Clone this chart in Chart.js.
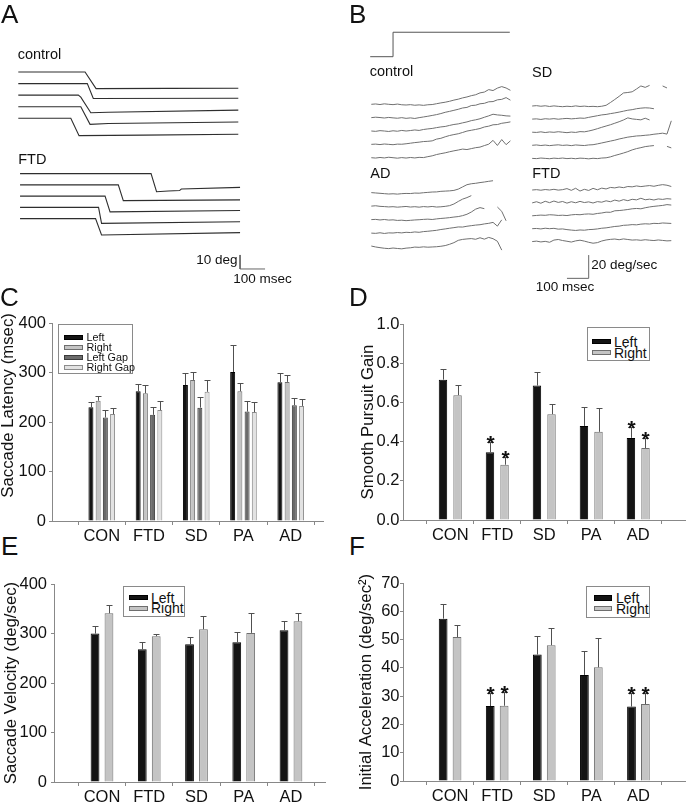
<!DOCTYPE html>
<html><head><meta charset="utf-8">
<script src="https://cdn.jsdelivr.net/npm/chart.js@4.4.1/dist/chart.umd.min.js"></script>
<style>
body{margin:0;background:#fff;}
#page{position:relative;width:686px;height:803px;overflow:hidden;font-family:'Liberation Sans',Arial,sans-serif;color:#111;background:#fff;}
canvas{position:absolute;}
.t{position:absolute;white-space:nowrap;line-height:1;}
.letter{font-size:26px;}
.lab{font-size:14.5px;}
.sb{font-size:13.5px;}
.rot{position:absolute;white-space:nowrap;line-height:1;text-align:center;transform:rotate(-90deg);transform-origin:50% 50%;}
.legend{position:absolute;border:1px solid #8a8a8a;background:#fff;box-sizing:border-box;}
.legend .tx{position:absolute;white-space:nowrap;line-height:1;}
.legend .sw{position:absolute;box-sizing:border-box;border:1px solid #555;}
</style></head><body><div id="page">
<canvas id="ca" width="343" height="300" style="left:0;top:0"></canvas>
<canvas id="cb" width="343" height="300" style="left:343px;top:0"></canvas>
<div class="t letter" style="left:1px;top:1px">A</div>
<div class="t letter" style="left:349px;top:1px">B</div>
<div class="t letter" style="left:0px;top:284px">C</div>
<div class="t letter" style="left:349px;top:284px">D</div>
<div class="t letter" style="left:1px;top:533px">E</div>
<div class="t letter" style="left:349px;top:533px">F</div>
<div class="t lab" style="left:17.7px;top:47.4px">control</div>
<div class="t lab" style="left:18.2px;top:152px">FTD</div>
<div class="t sb" style="right:448.5px;top:253.2px">10 deg</div>
<div class="t sb" style="left:233.3px;top:271.5px">100 msec</div>
<div class="t lab" style="left:369.7px;top:64px">control</div>
<div class="t lab" style="left:532px;top:64.5px">SD</div>
<div class="t lab" style="left:370.3px;top:166.3px">AD</div>
<div class="t lab" style="left:532.2px;top:166.3px">FTD</div>
<div class="t sb" style="left:591.3px;top:258.2px">20 deg/sec</div>
<div class="t sb" style="left:535.7px;top:279.7px">100 msec</div>
<div class="rot" style="font-size:16.8px;width:220px;height:16.8px;left:-102px;top:397px">Saccade Latency (msec)</div>
</div>
<script>
// ---------------- DATA ----------------
const categories = ['CON', 'FTD', 'SD', 'PA', 'AD'];

// Panel C: saccade latency (msec), mean and SE
const latLeft = [230, 262, 274.5, 301, 280.5];
const latLeftSE = [9.5, 14, 24.5, 54.5, 19.5];
const latRight = [243, 258, 285, 262, 281];
const latRightSE = [10.5, 16.5, 16, 16.5, 14];
const latLeftGap = [209, 214.5, 229, 221, 234];
const latLeftGapSE = [15, 15.5, 22.5, 20.5, 13.5];
const latRightGap = [216, 224, 261, 220, 232.5];
const latRightGapSE = [12, 18, 23.5, 19.5, 13.5];

// Panel D: smooth pursuit gain
const gainLeft = [0.716, 0.346, 0.686, 0.480, 0.419];
const gainLeftSE = [0.053, 0.051, 0.071, 0.094, 0.058];
const gainRight = [0.637, 0.282, 0.540, 0.450, 0.367];
const gainRightSE = [0.051, 0.039, 0.051, 0.119, 0.051];
const gainSig = [false, true, false, false, true];

// Panel E: saccade velocity (deg/sec)
const velLeft = [299.8, 268.2, 278.3, 282.4, 306.6];
const velLeftSE = [14.8, 14.8, 15.5, 20.1, 19.4];
const velRight = [340.8, 294.5, 308.6, 301.2, 324.7];
const velRightSE = [16.2, 5.3, 26.2, 40.3, 16.1];

// Panel F: initial acceleration (deg/sec^2)
const accLeft = [57.4, 26.5, 44.7, 37.5, 26.3];
const accLeftSE = [5.1, 4.5, 6.5, 8.6, 4.7];
const accRight = [50.9, 26.6, 48.0, 40.2, 27.2];
const accRightSE = [4.2, 4.8, 6.0, 10.4, 3.8];
const accSig = [false, true, false, false, true];

// Panel A: saccade eye-position traces, [msec, deg]
const aControl = [
  [[0,0],[267,0],[311,-11.9],[600,-11.7],[880,-11.6]],
  [[0,0],[276,0],[300,-10.7],[880,-10.5]],
  [[0,0],[240,0],[250,-1.4],[290,-12.6],[360,-12.2],[880,-10.7]],
  [[0,0],[250,0],[287,-12.6],[360,-12.0],[880,-10.9]],
  [[0,0],[210,0],[243,-12.4],[500,-12.0],[880,-11.4]]
];
const aFTD = [
  [[7,0],[531,0],[553,-12.9],[600,-12.4],[645,-12.1],[652,-11.0],[887,-9.8]],
  [[7,0],[400,0],[420,-11.2],[887,-10.7]],
  [[7,0],[347,0],[367,-11.2],[887,-10.2]],
  [[7,0],[321,0],[333,-11.4],[887,-10.2]],
  [[7,0],[309,0],[333,-11.7],[887,-10.0]]
];
const aScaleBar = [[887,-130.7],[887,-140.7],[987,-140.7]]; // 10 deg, 100 msec

// Panel B: smooth pursuit eye-velocity traces (deg/sec), sampled every 20 msec
const bTimes = [0,20,40,60,80,100,120,140,160,180,200,220,240,260,280,300,320,340,360,380,400,420,440,460,480,500,520,540,560,580,600,620,640];
const bStimTimes = [-5, 100, 100, 637];
const bStimVel = [0, 0, 21, 21];
const bControl = [
  [0,0.3,-0.2,0.4,0,-0.3,0.2,-0.4,-0.6,-0.3,-0.8,-0.5,-0.9,-0.4,-0.2,0.5,1.2,1.8,2.6,3.6,4.4,5.5,6.3,7.4,8.2,9.8,10.5,12.6,11.8,13.9,15.2,14.0,12.0],
  [0,0.4,0.1,-0.3,0.2,-0.2,-0.5,0,-0.6,-0.2,-0.7,0,0.6,1.2,1.9,2.6,3.5,4.6,5.4,6.3,7.2,8.3,8.8,10.4,10.7,11.9,12.3,13.6,13.8,15.3,15.7,17.2,15.0],
  [0,-0.3,0.3,0,-0.4,0.2,-0.2,0.5,0,0.4,0.9,0.5,1.3,1.8,2.2,2.9,3.5,3.9,4.8,5.6,6.1,7.0,7.8,8.9,9.6,10.5,11.8,13.0,14.4,13.8,13.5,13.0,12.8],
  [0,0.2,-0.2,0.3,0,-0.3,0.2,0.1,0.5,1.0,1.5,1.9,2.4,2.6,3.0,4.5,5.2,6.5,7.6,8.4,9.1,10.2,11.4,12.1,12.8,13.6,14.9,15.6,16.8,17.0,18.1,18.6,19.3],
  [0,-0.3,0.2,-0.2,0.4,0,-0.4,0.1,-0.3,0.2,-0.2,0.3,0.1,0.9,1.6,2.7,3.5,4.2,5.1,5.9,6.6,7.4,7.0,7.8,8.6,9.1,10.4,11.6,14.9,10.5,15.6,11.2,14.5]
];
const bSD = [
  [0,0.3,-0.2,0.2,-0.4,0.1,-0.3,-0.6,-0.2,-0.5,0.1,-0.4,-0.1,-0.5,-0.3,-0.6,-0.2,0.6,3.0,5.6,8.3,11.2,11.6,12.2,14.6,17.2,16.0,17.7,null,null,17.2,15.5,null],
  [0,0.2,-0.3,0.3,0,0.4,-0.1,0.3,0.6,0.2,0.5,0.9,0.7,1.5,2.2,2.9,3.6,4.0,4.7,5.3,6.0,6.8,7.6,8.1,8.9,9.4,9.7,9.5,8.9,null,null,null,null],
  [0,-0.2,0.3,-0.3,0.2,-0.1,0.4,0,-0.4,0.1,-0.2,0.5,0.3,1.0,1.9,3.0,4.2,5.3,6.4,7.7,9.0,10.5,12.3,11.4,11.0,10.6,12.0,10.5,null,null,null,null,null],
  [0,0.3,-0.2,0.2,-0.3,0.1,0.4,-0.1,0.2,-0.3,0.3,0,-0.2,0.3,0.5,1.2,2.0,2.8,3.6,4.4,5.4,6.2,7.0,7.5,8.0,8.2,8.6,8.9,9.5,9.9,10.4,9.6,21.0],
  [0,-0.2,0.3,0,-0.3,0.2,-0.1,0.3,-0.2,0.1,-0.3,0.2,0,-0.4,0.1,-0.2,0.3,0.5,1.3,2.5,3.5,4.6,5.8,7.3,8.4,9.2,10.1,10.6,11.0,null,null,10.3,9.0]
];
const bAD = [
  [0,-0.3,-0.6,-0.9,-1.2,-1.0,-1.3,-0.9,-0.7,-0.8,-0.4,-0.5,-0.1,0.2,0.5,0.6,1.1,1.3,1.5,1.9,3.0,4.9,6.8,7.6,8.0,8.6,9.1,9.7,10.2,null,null,null,null],
  [0,0.3,-0.2,-0.4,-0.7,-0.5,-0.9,-0.6,-0.3,-0.8,-0.5,-0.9,-0.4,-0.7,-0.3,-0.8,-0.6,-0.2,0.4,1.8,4.0,6.0,7.3,9.0,null,null,null,null,null,null,null,null,null],
  [0,0.2,-0.3,0.1,-0.4,-0.2,-0.7,-0.5,-0.9,-0.6,-0.3,-0.1,0.2,0.4,0.1,0.6,1.0,1.3,1.7,2.2,2.6,3.4,4.6,6.5,9.0,10.3,9.4,null,null,10.8,7.1,-1.0,null],
  [0,-0.2,0.3,-0.3,0.2,0.1,0.5,0.2,0.7,0.5,1.0,0.7,1.3,1.6,2.0,2.4,3.1,3.6,4.2,4.7,5.3,5.2,5.9,6.4,6.9,7.2,7.9,8.4,9.2,6.0,11.4,null,null],
  [0.5,-0.3,-0.9,-1.4,-1.7,-1.2,-1.6,-1.9,-1.3,-1.0,-0.4,-0.6,-0.2,-0.5,-0.3,-0.1,0.3,0.9,2.0,3.4,5.4,6.2,6.6,6.9,6.3,7.6,6.4,7.9,6.8,4.6,-3.0,null,null]
];
const bFTD = [
  [0,0.3,-0.2,0.4,0,0.6,-0.1,0.3,1.2,-0.3,1.5,-0.9,0.6,-0.4,1.4,0.2,1.6,0.9,2.2,1.8,2.6,2.0,3.0,2.7,3.5,2.9,3.4,3.8,3.2,4.0,4.6,4.1,3.0],
  [0,1.0,-0.3,1.4,0.2,1.6,0.4,1.2,-0.2,1.0,0.1,1.3,0.3,0.9,-0.1,1.1,0.6,1.8,1.0,2.4,1.5,2.8,1.9,3.1,2.6,4.0,2.7,3.2,2.5,3.4,3.0,3.6,3.3],
  [0,0.3,0.6,0.4,0.9,0.7,0.3,0.5,0.2,0.8,1.1,0.9,1.4,1.6,1.3,2.0,2.4,3.1,3.0,4.3,4.5,4.9,5.4,6.0,6.3,6.0,6.9,7.6,8.1,8.5,8.9,9.6,9.2],
  [0,0.2,-0.2,0.4,0,0.3,-0.4,-0.2,-0.8,-1.2,-1.5,-1.1,-1.3,-0.8,-0.6,-0.2,0.4,0.7,1.3,1.9,2.2,2.9,3.1,3.5,3.3,3.9,4.2,4.0,4.6,4.4,4.9,4.7,4.5],
  [0,0.4,-0.3,0.2,-0.6,1.3,1.8,0.9,0.3,-0.4,0.6,1.2,0.4,-0.6,-1.4,-0.9,0.5,1.4,1.9,2.2,1.6,2.3,1.8,1.3,1.5,1.1,1.6,1.2,0.9,1.4,1.0,0.6,0.8]
];
const bScaleBar = [[900,-148.8],[1000,-148.8],[1000,-128.8]]; // 100 msec, 20 deg/sec

// ---------------- RENDER ----------------
Chart.defaults.font.family = "'Liberation Sans', Arial, sans-serif";
Chart.defaults.color = '#111';

function traceChart(id, datasets, xr, yr) {
  new Chart(document.getElementById(id), {
    type: 'line',
    data: { datasets },
    options: {
      responsive: false, animation: false, events: [],
      layout: { padding: 0 },
      plugins: { legend: { display: false }, tooltip: { enabled: false } },
      scales: {
        x: { type: 'linear', display: false, min: xr[0], max: xr[1] },
        y: { type: 'linear', display: false, min: yr[0], max: yr[1] }
      },
      elements: { point: { radius: 0 }, line: { tension: 0 } }
    }
  });
}

// Panel A
const aSets = [];
aControl.forEach((tr, i) => aSets.push({ data: tr.map(p => ({ x: p[0], y: p[1] - i * 8.27 })), borderColor: '#2e2e2e', borderWidth: 1.1 }));
aFTD.forEach((tr, i) => aSets.push({ data: tr.map(p => ({ x: p[0], y: p[1] - 72.6 - i * 8.04 })), borderColor: '#2e2e2e', borderWidth: 1.1 }));
aSets.push({ data: aScaleBar.map(p => ({ x: p[0], y: p[1] })), borderColor: '#666', borderWidth: 1 });
traceChart('ca', aSets, [-73.2, 1298.8], [-162.86, 51.43]);

// Panel B
const bSets = [];
bSets.push({ data: bStimTimes.map((t, k) => ({ x: t, y: bStimVel[k] + 41.46 })), borderColor: '#555', borderWidth: 1 });
const bGroups = [
  { tr: bControl, dx: 0, base: 0.6, sp: 11.46 },
  { tr: bSD, dx: 740, base: -0.86, sp: 11.24 },
  { tr: bAD, dx: 0, base: -75.2, sp: 11.59 },
  { tr: bFTD, dx: 740, base: -72.96, sp: 11.07 }
];
bGroups.forEach(g => g.tr.forEach((tr, i) => {
  bSets.push({
    data: bTimes.map((t, k) => ({ x: t + g.dx, y: tr[k] === null ? null : tr[k] + g.base - i * g.sp })),
    borderColor: '#707070', borderWidth: 1, spanGaps: false
  });
}));
bSets.push({ data: bScaleBar.map(p => ({ x: p[0], y: p[1] })), borderColor: '#666', borderWidth: 1 });
traceChart('cb', bSets, [-130.2, 1447.6], [-167.38, 90.13]);

// Bar panels
const styles = {
  Left: { bg: '#141414', bd: '#000' },
  Right: { bg: '#c4c4c4', bd: '#6e6e6e' },
  'Left Gap': { bg: '#6b6b6b', bd: '#3a3a3a' },
  'Right Gap': { bg: '#e2e2e2', bd: '#8c8c8c' }
};

const errPlugin = {
  id: 'errbars',
  afterDatasetsDraw(chart) {
    const ctx = chart.ctx, ys = chart.scales.y;
    chart.data.datasets.forEach((ds, di) => {
      const meta = chart.getDatasetMeta(di);
      meta.data.forEach((bar, i) => {
        const v = ds.data[i].y;
        const top = Math.round(ys.getPixelForValue(v + ds.err[i])) + 0.5;
        const x = Math.round(bar.x) + 0.5;
        ctx.save();
        ctx.strokeStyle = '#505050';
        ctx.lineWidth = 1;
        ctx.beginPath();
        ctx.moveTo(x, bar.y);
        ctx.lineTo(x, top);
        ctx.moveTo(x - 3, top);
        ctx.lineTo(x + 3, top);
        ctx.stroke();
        if (ds.sig && ds.sig[i]) {
          ctx.fillStyle = '#111';
          ctx.font = "bold 21px 'Liberation Sans', Arial, sans-serif";
          ctx.textAlign = 'center';
          ctx.textBaseline = 'alphabetic';
          ctx.fillText('*', x, top + 7.8);
        }
        ctx.restore();
      });
    });
  }
};

function barPanel(p) {
  const rightEdge = Math.min(686, p.plotRight + 20);
  const W = rightEdge - p.left;
  const H = p.plotBottom - p.top + 30;
  const cv = document.createElement('canvas');
  cv.width = W; cv.height = H;
  cv.style.left = p.left + 'px'; cv.style.top = p.top + 'px';
  document.getElementById('page').appendChild(cv);
  const datasets = p.series.map(s => ({
    label: s.label,
    data: s.values.map((v, i) => ({ x: i, y: v })),
    err: s.se, sig: s.sig,
    backgroundColor: styles[s.label].bg,
    borderColor: styles[s.label].bd,
    borderWidth: 1,
    categoryPercentage: p.cat,
    barPercentage: p.bar
  }));
  new Chart(cv, {
    type: 'bar',
    data: { datasets },
    plugins: [errPlugin],
    options: {
      responsive: false, animation: false, events: [],
      layout: { padding: { top: p.plotTop - p.top, right: rightEdge - p.plotRight, left: 0, bottom: 0 } },
      plugins: { legend: { display: false }, tooltip: { enabled: false } },
      scales: {
        x: {
          type: 'linear', min: p.xMin, max: p.xMax, offset: false,
          afterBuildTicks: s => { s.ticks = categories.map((c, i) => ({ value: i })); },
          afterFit: s => { s.height = 30; },
          ticks: { callback: v => categories[v], autoSkip: false, maxRotation: 0, font: { size: 16.5 }, color: '#111', padding: 2 },
          grid: { display: true, drawOnChartArea: false, drawTicks: true, tickLength: 4, color: '#888' },
          border: { display: true, color: '#888' }
        },
        y: {
          min: 0, max: p.yMax,
          afterFit: s => { s.width = p.plotLeft - p.left; },
          ticks: { stepSize: p.yStep, callback: v => v.toFixed(p.dec), font: { size: 16.5 }, color: '#111', padding: p.tp },
          grid: { display: true, drawOnChartArea: false, drawTicks: true, tickLength: 3, color: '#888' },
          border: { display: true, color: '#888' },
          title: { display: p.title !== null, text: p.title || '', font: { size: 16.8 }, color: '#111', padding: { top: 0, bottom: 0 } }
        }
      }
    }
  });
  // legend
  const lg = document.createElement('div');
  lg.className = 'legend';
  const L = p.legend;
  Object.assign(lg.style, { left: L.x + 'px', top: L.y + 'px', width: L.w + 'px', height: L.h + 'px' });
  p.series.forEach((s, i) => {
    const cy = L.first + i * L.step;
    const sw = document.createElement('div');
    sw.className = 'sw';
    Object.assign(sw.style, { left: L.swx + 'px', top: (cy - L.swh / 2) + 'px', width: L.sww + 'px', height: L.swh + 'px', background: styles[s.label].bg, borderColor: styles[s.label].bd });
    const tx = document.createElement('div');
    tx.className = 'tx';
    tx.textContent = s.label;
    Object.assign(tx.style, { left: L.tx + 'px', top: (cy - L.fs / 2) + 'px', fontSize: L.fs + 'px' });
    lg.appendChild(sw); lg.appendChild(tx);
  });
  document.getElementById('page').appendChild(lg);
}

barPanel({
  left: -2, top: 308, plotLeft: 52, plotTop: 323, plotRight: 323, plotBottom: 521,
  yMax: 400, yStep: 100, dec: 0, title: null, tp: 3,
  xMin: -1.053, xMax: 4.683, cat: 0.611, bar: 0.69,
  series: [
    { label: 'Left', values: latLeft, se: latLeftSE },
    { label: 'Right', values: latRight, se: latRightSE },
    { label: 'Left Gap', values: latLeftGap, se: latLeftGapSE },
    { label: 'Right Gap', values: latRightGap, se: latRightGapSE }
  ],
  legend: { x: 58, y: 324, w: 75, h: 50, first: 12, step: 10, swx: 5, sww: 19, swh: 5, tx: 27.5, fs: 10.8 }
});
barPanel({
  left: 358, top: 309, plotLeft: 403, plotTop: 324, plotRight: 686, plotBottom: 520,
  yMax: 1.0, yStep: 0.2, dec: 1, title: 'Smooth Pursuit Gain', tp: 0.5,
  xMin: -1.006, xMax: 5.017, cat: 0.62, bar: 0.58,
  series: [
    { label: 'Left', values: gainLeft, se: gainLeftSE, sig: gainSig },
    { label: 'Right', values: gainRight, se: gainRightSE, sig: gainSig }
  ],
  legend: { x: 587, y: 327, w: 63, h: 34, first: 13.5, step: 11, swx: 4, sww: 18.5, swh: 5.5, tx: 26, fs: 14 }
});
barPanel({
  left: 1, top: 569, plotLeft: 54, plotTop: 584, plotRight: 325, plotBottom: 782,
  yMax: 400, yStep: 100, dec: 0, title: 'Saccade Velocity (deg/sec)', tp: 4,
  xMin: -1.016, xMax: 4.72, cat: 0.59, bar: 0.63,
  series: [
    { label: 'Left', values: velLeft, se: velLeftSE },
    { label: 'Right', values: velRight, se: velRightSE }
  ],
  legend: { x: 122.7, y: 586, w: 62.5, h: 31, first: 10.7, step: 10.6, swx: 5.6, sww: 18.4, swh: 5.5, tx: 27.3, fs: 14 }
});
barPanel({
  left: 356, top: 568, plotLeft: 403, plotTop: 583, plotRight: 686, plotBottom: 781,
  yMax: 70, yStep: 10, dec: 0, title: 'Initial Acceleration (deg/sec\u00B2)', tp: 0.5,
  xMin: -1.0, xMax: 5.01, cat: 0.59, bar: 0.63,
  series: [
    { label: 'Left', values: accLeft, se: accLeftSE, sig: accSig },
    { label: 'Right', values: accRight, se: accRightSE, sig: accSig }
  ],
  legend: { x: 586, y: 586, w: 63.5, h: 31.5, first: 10.8, step: 10.7, swx: 6.7, sww: 18, swh: 5.5, tx: 29, fs: 14 }
});
</script>
</body></html>
